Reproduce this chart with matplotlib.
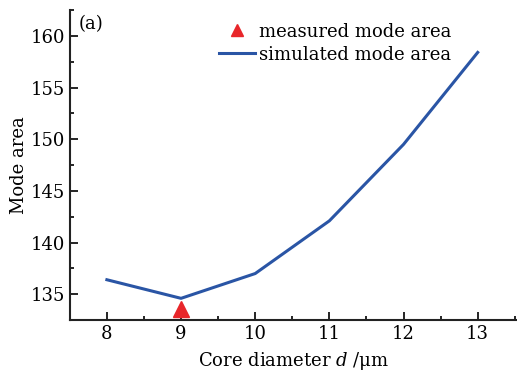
import matplotlib
matplotlib.use('Agg')
import matplotlib.pyplot as plt
from matplotlib.ticker import MultipleLocator

plt.rcParams['font.family'] = ['DejaVu Serif']
plt.rcParams['mathtext.fontset'] = 'dejavuserif'

# simulated mode area vs core diameter
core_d = [8, 9, 10, 11, 12, 13]
sim_area = [136.4, 134.6, 137.0, 142.1, 149.5, 158.4]

# measured point
meas_d = [9]
meas_area = [133.6]

fig = plt.figure(figsize=(5.17, 3.73), dpi=100)
ax = fig.add_axes([0.135, 0.142, 0.865, 0.831])

ax.plot(meas_d, meas_area, linestyle='none', marker='^', color='#e8262a',
        markersize=11, label='measured mode area', clip_on=False, zorder=3)
ax.plot(core_d, sim_area, color='#2a55a5', linewidth=2.2, label='simulated mode area')

ax.set_xlim(7.5, 13.53)
ax.set_ylim(132.5, 162.5)
ax.xaxis.set_major_locator(MultipleLocator(1))
ax.xaxis.set_minor_locator(MultipleLocator(0.5))
ax.yaxis.set_major_locator(MultipleLocator(5))
ax.yaxis.set_minor_locator(MultipleLocator(2.5))

for s in ['top', 'right']:
    ax.spines[s].set_visible(False)
for s in ['left', 'bottom']:
    ax.spines[s].set_linewidth(1.5)
    ax.spines[s].set_color('#222222')

ax.tick_params(which='both', direction='in', width=1.2, labelsize=13)
ax.tick_params(which='major', length=6)
ax.tick_params(which='minor', length=3)

ax.set_xlabel('Core diameter $d$ /μm', fontsize=13, labelpad=5)
ax.set_ylabel('Mode area', fontsize=13, labelpad=2)

ax.text(0.02, 0.985, '(a)', transform=ax.transAxes, fontsize=13, va='top', ha='left')

ax.legend(loc='upper center', bbox_to_anchor=(0.593, 1.0), frameon=False, fontsize=13,
          handlelength=2.0, handletextpad=0.2, labelspacing=0.27, borderpad=0.2,
          markerscale=0.8)

fig.savefig('out.png', dpi=100)
